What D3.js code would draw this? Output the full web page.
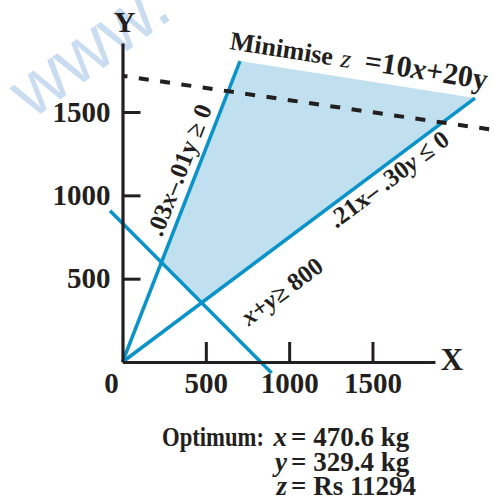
<!DOCTYPE html>
<html>
<head>
<meta charset="utf-8">
<script src="https://cdn.jsdelivr.net/npm/d3@7"></script>
<style>
  html, body { margin: 0; padding: 0; background: #fff; }
  svg { display: block; }
  .vis text { font-family: "Liberation Serif", "Times New Roman", serif; font-weight: bold; fill: #231f20; }
  .vis .mark { font-family: "Liberation Sans", Arial, sans-serif; font-weight: normal; fill: #c9dcf0; }
</style>
</head>
<body>
<script>
'use strict';

// Data
const xTicks = [500, 1000, 1500];
const yTicks = [500, 1000, 1500];
const ratioLine = [[0, 0], [705, 1806]];      // .03x - .01y = 0
const proteinLine = [[0, 0], [2115, 1584]];   // .21x - .30y = 0
const totalLine = [[-75, 908], [895, -66]];   // x + y = 800
const costLine = [[0, 1717], [2230, 1392]];   // z = 10x + 20y (iso-cost)
const feasible = [[235, 602], [705, 1806], [2115, 1584], [475, 352]];
const optVars = ['x', 'y', 'z'];
const optValues = ['470.6 kg', '329.4 kg', 'Rs 11294'];

// Layout
const W = 494, H = 502;
const origin = [122.5, 362];
const unit = 333.3 / 2000;   // px per kg
const xMax = 1875, yMax = 1914;
const blue = '#0a93c9';
const fill = '#c0e0ef';
const ink = '#231f20';

const x = d3.scaleLinear().domain([0, 2000]).range([origin[0], origin[0] + 2000 * unit]);
const y = d3.scaleLinear().domain([0, 2000]).range([origin[1], origin[1] - 2000 * unit]);

const angleOf = ([p0, p1]) =>
  Math.atan2(y(p1[1]) - y(p0[1]), x(p1[0]) - x(p0[0])) * 180 / Math.PI;

// label anchors are in kg, angles taken from the line they sit on
const lineLabels = [
  { line: ratioLine, at: [387, 1134], parts: [['.03', 0], ['x', 1], ['–.01y ≥ 0', 0]] },
  { line: proteinLine, at: [1627, 1057], parts: [['.21x– .30', 0], ['y', 1], [' ≤ 0', 0]] },
  { line: proteinLine, at: [987, 384], parts: [['x', 1], ['+', 0], ['y', 1], ['≥ 800', 0]] }
];

const svg = d3.select('body').append('svg')
  .attr('class', 'vis')
  .attr('width', W)
  .attr('height', H)
  .attr('viewBox', `0 0 ${W} ${H}`);

// watermark
svg.append('text')
  .attr('class', 'mark')
  .attr('transform', 'translate(32,120) rotate(-36)')
  .style('font-size', '74px')
  .text('www.');

const path = d3.line().x(d => x(d[0])).y(d => y(d[1]));

// Feasible region
svg.append('path')
  .attr('d', path(feasible) + 'Z')
  .attr('fill', fill);

// Constraint lines
svg.append('g')
  .selectAll('path')
  .data([ratioLine, proteinLine, totalLine])
  .join('path')
  .attr('d', path)
  .attr('fill', 'none')
  .attr('stroke', blue)
  .attr('stroke-width', 3.5);

// Iso-cost line
svg.append('path')
  .attr('d', path(costLine))
  .attr('fill', 'none')
  .attr('stroke', ink)
  .attr('stroke-width', 4)
  .attr('stroke-dasharray', '10 11.5')
  .attr('stroke-dashoffset', 5);

// Axes
const xAxisScale = x.copy().domain([0, xMax]).range([x(0), x(xMax)]);
const yAxisScale = y.copy().domain([0, yMax]).range([y(0), y(yMax)]);
const fmt = d3.format('d');

const gx = svg.append('g')
  .attr('transform', `translate(0,${y(0)})`)
  .call(d3.axisBottom(xAxisScale).tickValues(xTicks).tickFormat(fmt)
    .tickSizeInner(-20).tickSizeOuter(0).tickPadding(10));

const gy = svg.append('g')
  .attr('transform', `translate(${x(0)},0)`)
  .call(d3.axisLeft(yAxisScale).tickValues(yTicks).tickFormat(fmt)
    .tickSizeInner(-18).tickSizeOuter(0).tickPadding(12));

[gx, gy].forEach(g => {
  g.attr('font-family', null).attr('font-size', null);
  g.select('.domain').attr('stroke', ink).attr('stroke-width', 3.2);
  g.selectAll('.tick line').attr('stroke', ink).attr('stroke-width', 3);
  g.selectAll('.tick text').style('font-size', '29px').attr('fill', ink);
});

svg.append('text')
  .attr('x', x(0) - 11)
  .attr('y', 393)
  .attr('text-anchor', 'middle')
  .style('font-size', '29px')
  .text('0');

svg.append('text')
  .attr('x', x(0) + 2)
  .attr('y', 32)
  .attr('text-anchor', 'middle')
  .style('font-size', '30px')
  .text('Y');

svg.append('text')
  .attr('x', x(xMax) + 17)
  .attr('y', 370)
  .attr('text-anchor', 'middle')
  .style('font-size', '31px')
  .text('X');

// Objective label along the top edge
const topEdge = [feasible[1], feasible[2]];
const obj = svg.append('text')
  .attr('transform', `translate(229,49) rotate(${angleOf(topEdge)})`)
  .style('font-size', '26px');
obj.append('tspan').text('Minimise');
obj.append('tspan').attr('dx', 8).style('font-style', 'italic').style('font-weight', 'normal').text('z');
obj.append('tspan').attr('dx', 14).style('font-size', '30px').text('=10');
obj.append('tspan').style('font-style', 'italic').style('font-size', '30px').text('x');
obj.append('tspan').style('font-size', '30px').text('+20y');

// Constraint labels
lineLabels.forEach(l => {
  const t = svg.append('text')
    .attr('text-anchor', 'middle')
    .attr('transform', `translate(${x(l.at[0])},${y(l.at[1])}) rotate(${angleOf(l.line)})`)
    .style('font-size', '25px');
  l.parts.forEach(([s, it]) => {
    t.append('tspan').style('font-style', it ? 'italic' : null).text(s);
  });
});

// Optimum block, aligned on "="
const eqX = 291;
const rows = optVars.map((v, i) => ({ v, val: optValues[i], base: 446 + i * 24.5 }));

svg.append('text')
  .attr('x', 162)
  .attr('y', rows[0].base)
  .attr('textLength', 102)
  .attr('lengthAdjust', 'spacingAndGlyphs')
  .style('font-size', '27px')
  .text('Optimum:');

rows.forEach(r => {
  svg.append('text')
    .attr('x', eqX - 4)
    .attr('y', r.base)
    .attr('text-anchor', 'end')
    .style('font-size', '27px')
    .style('font-style', 'italic')
    .text(r.v);

  svg.append('text')
    .attr('x', eqX)
    .attr('y', r.base)
    .style('font-size', '27px')
    .text('= ' + r.val);
});
</script>
</body>
</html>
